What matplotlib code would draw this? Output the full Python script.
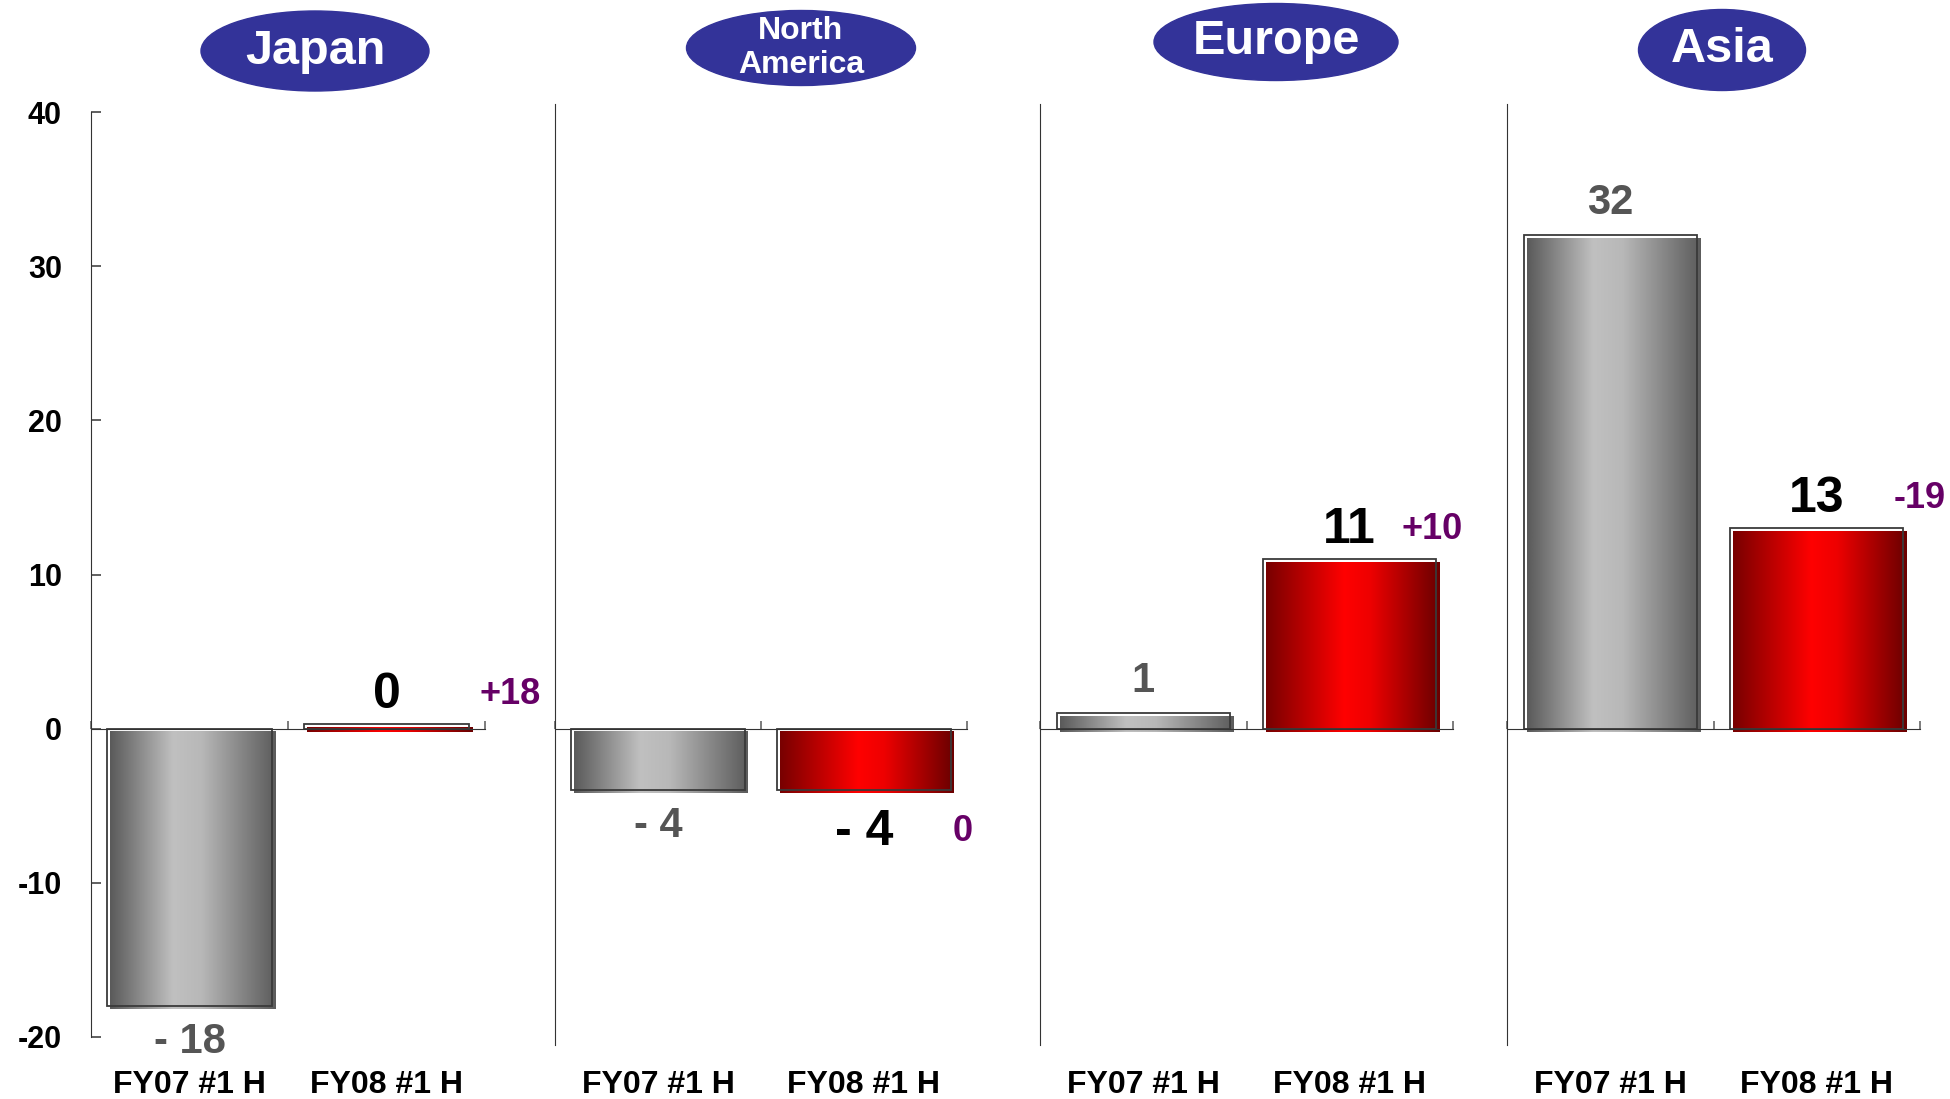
import numpy as np
import matplotlib
matplotlib.use("Agg")
import matplotlib.pyplot as plt
from matplotlib.colors import to_rgb
from matplotlib.patches import Ellipse
from matplotlib.transforms import ScaledTranslation

# data
regions = ["Japan", "North\nAmerica", "Europe", "Asia"]
periods = ["FY07 #1 H", "FY08 #1 H"]
fy07 = [-18, -4, 1, 32]
fy08 = [0.3, -4, 11, 13]
fy07_text = ["- 18", "- 4", "1", "32"]
fy08_text = ["0", "- 4", "11", "13"]
change_text = ["+18", "0", "+10", "-19"]

plt.rcParams["font.family"] = ["Liberation Sans", "DejaVu Sans"]
plt.rcParams["font.weight"] = "bold"
plt.rcParams["axes.unicode_minus"] = False

W, H = 1950, 1099
fig = plt.figure(figsize=(W / 100, H / 100), dpi=100)

# layout in pixels
panel_px = [(91, 485), (555, 967), (1040, 1453), (1507, 1920)]
top_px, bottom_px = 112, 1037
title_px = [(315, 51, 228, 80, 35), (801, 48, 229, 75, 23),
            (1276, 42, 244, 77, 35), (1722, 50, 167, 81, 35)]
change_x = [2.13, 1.98, 1.9, 2.0]
bar_w = 0.84


def ramp(stops, n=256):
    pos = [s[0] for s in stops]
    cols = np.array([to_rgb(s[1]) for s in stops])
    x = np.linspace(0, 1, n)
    return np.stack([np.interp(x, pos, cols[:, k]) for k in range(3)], axis=-1)[None, :, :]


grey = ramp([(0, "#5a5a5a"), (0.38, "#c0c0c0"), (0.55, "#b8b8b8"), (1, "#5c5c5c")])
red = ramp([(0, "#780000"), (0.45, "#ff0000"), (0.6, "#ee0000"), (1, "#6a0000")])

shift = ScaledTranslation(0.03, -0.03, fig.dpi_scale_trans)

for i, (x0, x1) in enumerate(panel_px):
    ax = fig.add_axes([x0 / W, 1 - bottom_px / H, (x1 - x0) / W, (bottom_px - top_px) / H])

    for j, (v, grad) in enumerate([(fy07[i], grey), (fy08[i], red)]):
        xc = j + 0.5
        left = xc - bar_w / 2
        ax.bar(xc, v, bar_w, color="white", edgecolor="none", zorder=2)
        im = ax.imshow(grad, extent=[left, left + bar_w, min(0, v), max(0, v)],
                       aspect="auto", interpolation="bilinear", zorder=2.5)
        im.set_transform(ax.transData + shift)
        ax.bar(xc, v, bar_w, facecolor="none", edgecolor="#3a3a3a", lw=1.3, zorder=3)

    ax.set_xlim(0, 2)
    ax.set_ylim(-20, 40)

    ax.spines[["top", "right"]].set_visible(False)
    ax.spines["bottom"].set_position(("data", 0))
    ax.spines["bottom"].set_zorder(4)
    ax.spines["bottom"].set_color("#333333")
    ax.spines["left"].set_color("#333333")
    ax.set_xticks([0, 1, 2])
    ax.set_xticklabels([])
    ax.tick_params(axis="x", direction="in", length=6, color="#666666", width=1.2)

    if i == 0:
        ax.set_yticks(range(-20, 41, 10))
        ax.tick_params(axis="y", direction="in", length=7, pad=21, labelsize=22,
                       color="#444444", width=1.2)
    else:
        ax.set_yticks([])
        ax.spines["left"].set_bounds(-20.5, 40.5)

    for j, p in enumerate(periods):
        ax.text(j + 0.5, -0.052, p, transform=ax.get_xaxis_transform(),
                ha="center", va="center", fontsize=23)

    y07 = fy07[i] + 2.1 if fy07[i] >= 0 else fy07[i] - 2.3
    y08 = fy08[i] + 1.9 if fy08[i] >= 0 else fy08[i] - 2.7
    ax.text(0.5, y07, fy07_text[i], color="#555555", fontsize=30, ha="center", va="center")
    ax.text(1.5, y08, fy08_text[i], color="black", fontsize=36, ha="center", va="center")
    ax.text(change_x[i], y08, change_text[i], color="#660066", fontsize=26,
            ha="center", va="center", clip_on=False)

    cx, cy, ew, eh, fs = title_px[i]
    fig.add_artist(Ellipse((cx / W, 1 - cy / H), ew / W, eh / H,
                           transform=fig.transFigure, color="#333399"))
    fig.text(cx / W, 1 - cy / H, regions[i], ha="center", va="center",
             color="white", fontsize=fs, linespacing=1.15)

fig.savefig("out.png", dpi=100)
